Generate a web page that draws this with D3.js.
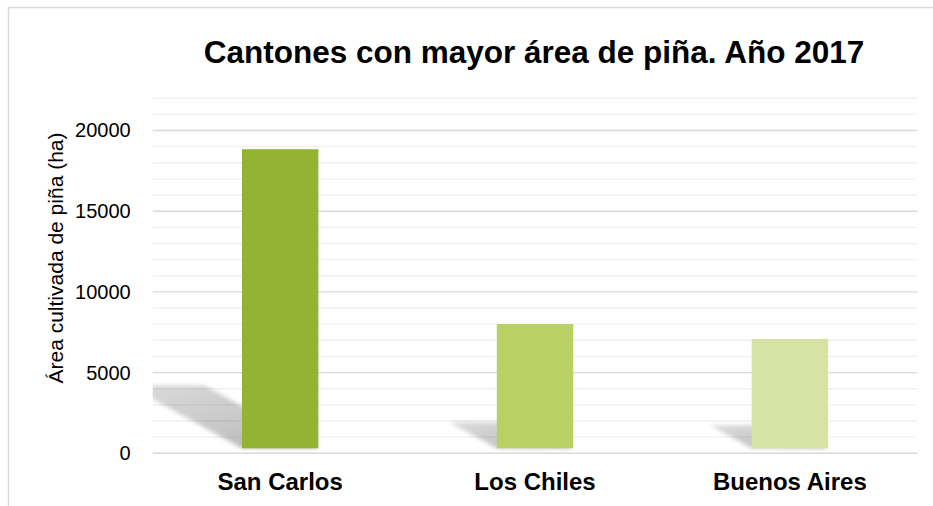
<!DOCTYPE html>
<html>
<head>
<meta charset="utf-8">
<script src="https://cdn.jsdelivr.net/npm/d3@7"></script>
<style>
  html, body { margin: 0; padding: 0; background: #fff; }
  svg { display: block; font-family: "Liberation Sans", Arial, sans-serif; }
</style>
</head>
<body>
<svg id="chart" width="933" height="506"></svg>
<script>
// ---- data ----
const categories = ["San Carlos", "Los Chiles", "Buenos Aires"];
const values = [18840, 8010, 7080];
const barColors = ["#95b330", "#b9d065", "#d6e3a4"];
const yTicks = [0, 5000, 10000, 15000, 20000];
const yMax = 22000;
const gridStep = 1000;
const title = "Cantones con mayor área de piña. Año 2017";
const yTitle = "Área cultivada de piña (ha)";

// ---- layout ----
const W = 933, H = 506;
const plot = { left: 152.7, right: 917.3, top: 98.2, bottom: 453.3 };

const svg = d3.select("#chart");

// outer frame
svg.append("rect")
  .attr("x", 8.5).attr("y", 7.5)
  .attr("width", 960).attr("height", 540)
  .attr("fill", "#fff")
  .attr("stroke", "#d9d9d9").attr("stroke-width", 1.5);

const x = d3.scaleBand()
  .domain(categories)
  .range([plot.left, plot.right])
  .paddingInner(0.7)
  .paddingOuter(0.35);

const y = d3.scaleLinear()
  .domain([0, yMax])
  .range([plot.bottom, plot.top]);

const defs = svg.append("defs");
defs.append("clipPath").attr("id", "plotClip")
  .append("rect")
  .attr("x", plot.left).attr("y", plot.top)
  .attr("width", plot.right - plot.left).attr("height", plot.bottom - plot.top);

const blur = defs.append("filter").attr("id", "shadowBlur")
  .attr("x", "-20%").attr("y", "-20%").attr("width", "140%").attr("height", "140%");
blur.append("feGaussianBlur").attr("stdDeviation", 2.2);

const grad = defs.append("linearGradient").attr("id", "shadowGrad")
  .attr("x1", "0").attr("y1", "0").attr("x2", "1").attr("y2", "1");
grad.append("stop").attr("offset", "0").attr("stop-color", "#000").attr("stop-opacity", 0.14);
grad.append("stop").attr("offset", "0.6").attr("stop-color", "#000").attr("stop-opacity", 0.22);
grad.append("stop").attr("offset", "1").attr("stop-color", "#000").attr("stop-opacity", 0.30);

const barGlow = defs.append("filter").attr("id", "barSoft")
  .attr("x", "-10%").attr("y", "-10%").attr("width", "120%").attr("height", "120%");
barGlow.append("feGaussianBlur").attr("stdDeviation", 0.7);

// gridlines
const gridVals = d3.range(0, yMax + 1, gridStep);
svg.append("g").selectAll("line")
  .data(gridVals)
  .join("line")
  .attr("x1", plot.left).attr("x2", plot.right)
  .attr("y1", d => y(d)).attr("y2", d => y(d))
  .attr("stroke", d => (d % 5000 === 0) ? "#d9d9d9" : "#f0f0f0")
  .attr("stroke-width", 1.4);

// shadows
const inset = 5;
const kx = 0.38, ky = 0.21;
const data = categories.map((c, i) => ({ c, v: values[i], color: barColors[i] }));

svg.append("g").attr("clip-path", "url(#plotClip)")
  .selectAll("path")
  .data(data)
  .join("path")
  .attr("d", d => {
    const bx = x(d.c), bw = x.bandwidth();
    const yb = y(0) - inset, yt = y(d.v);
    const h = yb - yt;
    return `M${bx},${yb} L${bx - kx * h},${yb - ky * h} L${bx + bw - kx * h},${yb - ky * h} L${bx + bw},${yb} Z`;
  })
  .attr("fill", "url(#shadowGrad)")
  .attr("filter", "url(#shadowBlur)");

// bars
svg.append("g")
  .selectAll("rect")
  .data(data)
  .join("rect")
  .attr("x", d => x(d.c))
  .attr("width", x.bandwidth())
  .attr("y", d => y(d.v))
  .attr("height", d => (y(0) - inset) - y(d.v))
  .attr("fill", d => d.color)
  .attr("filter", "url(#barSoft)");

// y axis
const yAxis = svg.append("g")
  .attr("transform", `translate(${plot.left},0)`)
  .call(d3.axisLeft(y).tickValues(yTicks).tickSize(0).tickPadding(22).tickFormat(d3.format("d")));
yAxis.select(".domain").remove();
yAxis.selectAll("text")
  .attr("font-family", "'Liberation Sans', Arial, sans-serif")
  .attr("font-size", 20)
  .attr("fill", "#000");

// x axis
const xAxis = svg.append("g")
  .attr("transform", `translate(0,${plot.bottom})`)
  .call(d3.axisBottom(x).tickSize(0).tickPadding(20));
xAxis.select(".domain").remove();
xAxis.selectAll("text")
  .attr("font-family", "'Liberation Sans', Arial, sans-serif")
  .attr("font-size", 24)
  .attr("font-weight", "bold")
  .attr("fill", "#000");

// title
svg.append("text")
  .attr("x", 534).attr("y", 63)
  .attr("text-anchor", "middle")
  .attr("font-size", 31.5)
  .attr("font-weight", "bold")
  .attr("fill", "#000")
  .text(title);

// y title
svg.append("text")
  .attr("transform", "translate(62.5,258) rotate(-90)")
  .attr("text-anchor", "middle")
  .attr("font-size", 21)
  .attr("fill", "#000")
  .text(yTitle);
</script>
</body>
</html>
